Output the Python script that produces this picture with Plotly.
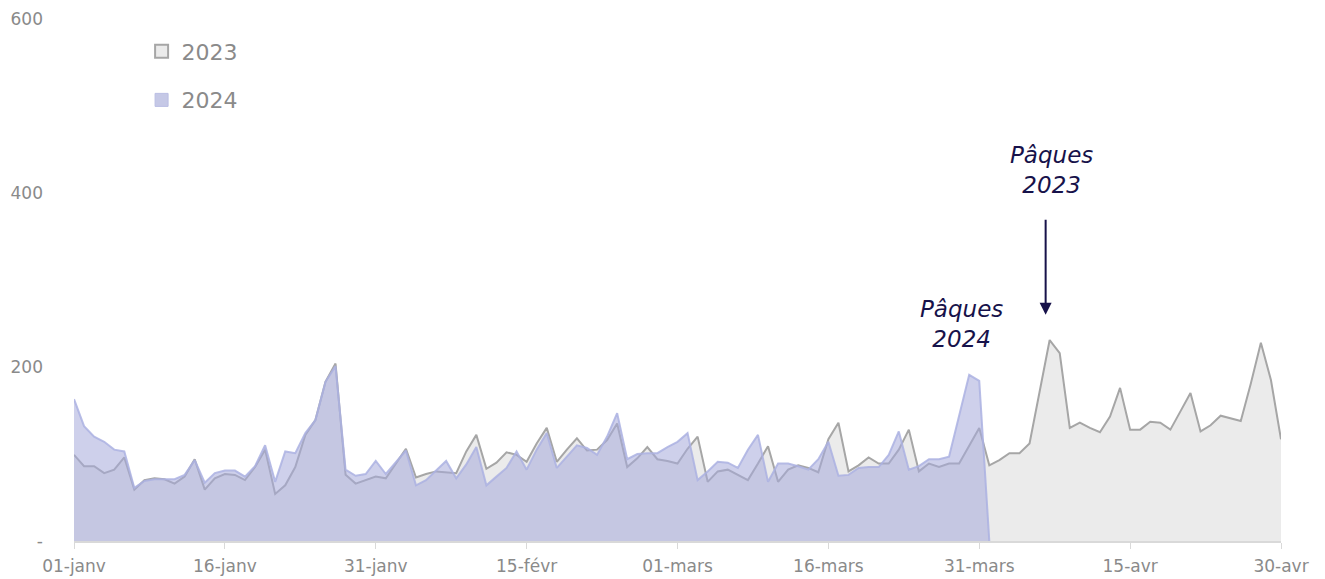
import pandas as pd
import plotly.graph_objects as go

# ---- data ----
MOIS = {1: "janv", 2: "févr", 3: "mars", 4: "avr"}
dates = pd.date_range("2024-01-01", "2024-04-30", freq="D")
days = [f"{d.day:02d}-{MOIS[d.month]}" for d in dates]

tick_labels = ["01-janv", "16-janv", "31-janv", "15-févr", "01-mars",
               "16-mars", "31-mars", "15-avr", "30-avr"]

values_2023 = [
    99, 86, 86, 78, 82, 96, 59, 70, 72, 71, 66, 74, 94, 59, 72, 77, 76, 70, 85, 105,
    54, 64, 85, 122, 139, 183, 204, 76, 66, 70, 74, 72, 89, 106, 73, 77, 80, 79, 78, 103,
    122, 83, 90, 102, 99, 91, 112, 130, 91, 105, 118, 104, 105, 116, 135, 85, 95, 108, 94, 92,
    89, 106, 120, 68, 80, 82, 76, 70, 89, 109, 68, 82, 87, 84, 79, 117, 136, 80, 87, 96,
    89, 89, 105, 128, 80, 89, 85, 89, 89, 110, 130, 87, 93, 101, 101, 112, 172, 231, 216, 130,
    136, 130, 125, 143, 176, 128, 128, 137, 136, 128, 149, 170, 126, 133, 144, 141, 138, 181, 228, 185,
    117,
]

values_2024 = [
    163, 132, 120, 114, 105, 103, 61, 69, 71, 71, 71, 76, 93, 67, 78, 81, 81, 74, 86, 110,
    68, 103, 101, 124, 139, 183, 201, 82, 75, 77, 92, 77, 91, 104, 64, 70, 81, 92, 72, 88,
    108, 64, 74, 84, 103, 82, 105, 124, 84, 97, 110, 107, 99, 120, 147, 94, 100, 101, 101, 108,
    114, 124, 70, 80, 91, 90, 84, 105, 122, 68, 89, 89, 86, 82, 94, 114, 75, 76, 84, 85,
    85, 99, 126, 82, 86, 94, 94, 97, 143, 191, 184, 0,
]

y_ticks = [0, 200, 400, 600]
y_ticktext = ["-", "200", "400", "600"]

# ---- styles ----
GREY_LINE = "#a6a6a6"
GREY_FILL = "#ebebeb"
BLUE_LINE = "rgba(172,178,226,0.85)"
BLUE_FILL = "rgba(165,170,218,0.55)"
NAVY = "#17124a"
TXT = "#8a8a8a"
FONT = "DejaVu Sans"

fig = go.Figure()

fig.add_trace(go.Scatter(
    x=days, y=values_2023, mode="lines", fill="tozeroy",
    line=dict(color=GREY_LINE, width=2), fillcolor=GREY_FILL,
    showlegend=False, hoverinfo="skip"))
fig.add_trace(go.Scatter(
    x=days[:len(values_2024)], y=values_2024, mode="lines", fill="tozeroy",
    line=dict(color=BLUE_LINE, width=2), fillcolor=BLUE_FILL,
    showlegend=False, hoverinfo="skip"))

# legend entries (square markers)
fig.add_trace(go.Scatter(
    x=[None], y=[None], mode="markers", name="2023", legendgroup="a",
    marker=dict(symbol="square", size=13, color=GREY_FILL,
                line=dict(color=GREY_LINE, width=2))))
fig.add_trace(go.Scatter(
    x=[None], y=[None], mode="markers", name="2024", legendgroup="b",
    marker=dict(symbol="square", size=13, color="#c5c8e6",
                line=dict(color="#b9bde3", width=1))))

# annotations
ann_font = dict(family=FONT, size=23, color=NAVY)
fig.add_annotation(x=88.2, y=250, xref="x", yref="y", text="<i>Pâques<br>2024</i>",
                   showarrow=False, font=ann_font, align="center")
fig.add_annotation(x=97.2, y=426, xref="x", yref="y", text="<i>Pâques<br>2023</i>",
                   showarrow=False, font=ann_font, align="center")
fig.add_annotation(x=96.6, y=260, ax=96.6, ay=371, xref="x", yref="y",
                   axref="x", ayref="y", text="", showarrow=True,
                   arrowhead=2, arrowsize=1.2, arrowwidth=2, arrowcolor=NAVY)

fig.update_layout(
    width=1317, height=571,
    margin=dict(l=66, r=44, t=11, b=38),
    plot_bgcolor="white", paper_bgcolor="white",
    font=dict(family=FONT, color=TXT, size=17),
    legend=dict(x=0.056, y=0.978, xanchor="left", yanchor="top",
                font=dict(size=22, color=TXT), tracegroupgap=17,
                bgcolor="rgba(0,0,0,0)", itemwidth=30),
    xaxis=dict(type="category", range=[0, len(days) - 1], automargin=False,
               tickvals=tick_labels, ticktext=tick_labels,
               showgrid=False, zeroline=False,
               showline=True, linecolor="#d9d9d9", linewidth=2,
               ticks="outside", ticklen=6, tickcolor="#d9d9d9", tickwidth=1,
               tickfont=dict(size=17, color=TXT), ticklabelstandoff=3),
    yaxis=dict(range=[0, 600], tickvals=y_ticks, ticktext=y_ticktext, automargin=False,
               showgrid=False, zeroline=False, showline=False,
               tickfont=dict(size=17, color=TXT), ticklabelstandoff=30),
)

fig.write_html("out.html")
